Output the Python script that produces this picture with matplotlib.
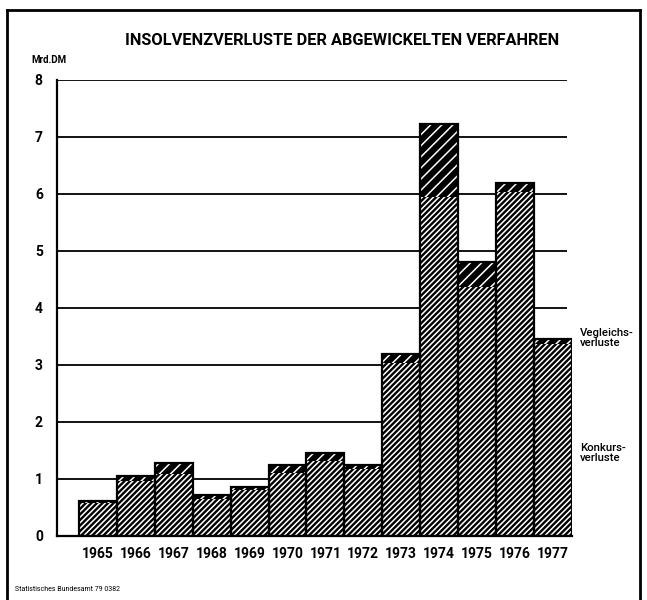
import matplotlib
matplotlib.use("Agg")
import matplotlib.pyplot as plt
import numpy as np
from matplotlib.lines import Line2D

# Insolvenzverluste (Mrd. DM)
YEARS = ["1965", "1966", "1967", "1968", "1969", "1970", "1971",
         "1972", "1973", "1974", "1975", "1976", "1977"]
KONKURS = [0.58, 0.97, 1.09, 0.65, 0.80, 1.10, 1.31, 1.17, 3.03, 5.95, 4.36, 6.04, 3.37]
VERGLEICH = [0.03, 0.08, 0.18, 0.06, 0.06, 0.15, 0.15, 0.08, 0.16, 1.27, 0.45, 0.15, 0.08]
Y_TICKS = [0, 1, 2, 3, 4, 5, 6, 7, 8]

plt.rcParams["font.family"] = ["Roboto", "DejaVu Sans"]

fig = plt.figure(figsize=(6.47, 6.0), dpi=100)
ax = fig.add_axes([0.0876, 0.107, 0.7960, 0.760])

x = np.arange(len(YEARS))
konk = np.array(KONKURS)
verg = np.array(VERGLEICH)

# gridlines behind the bars
ax.hlines(Y_TICKS[1:], -1.09, 12.38, color="black", linewidth=1.3, zorder=1)

# dense dark hatch for Konkurs, black with thin white stripes for Vergleich
plt.rcParams["hatch.linewidth"] = 1.7
ax.bar(x, konk, width=1.0, facecolor="white", edgecolor="black",
       hatch="//////", linewidth=0, zorder=2)
plt.rcParams["hatch.linewidth"] = 1.1
ax.bar(x, verg, width=1.0, bottom=konk, facecolor="black", edgecolor="white",
       hatch="///", linewidth=0, zorder=2)
ax.bar(x, konk + verg, width=1.0, fill=False, edgecolor="black",
       linewidth=1.6, zorder=3)

ax.set_xlim(-1.09, 12.5)
ax.set_ylim(0, 8)
ax.set_yticks(Y_TICKS)
ax.set_yticklabels([str(t) for t in Y_TICKS], fontsize=10, fontweight="bold")
ax.set_xticks(x)
ax.set_xticklabels(YEARS, fontsize=10, fontweight="bold")
ax.tick_params(axis="both", length=0)
ax.tick_params(axis="y", pad=10)
ax.tick_params(axis="x", pad=8)

for side in ["top", "right"]:
    ax.spines[side].set_visible(False)
for side in ["left", "bottom"]:
    ax.spines[side].set_linewidth(1.6)
    ax.spines[side].set_zorder(4)

fig.text(0.529, 0.933, "INSOLVENZVERLUSTE DER ABGEWICKELTEN VERFAHREN",
         ha="center", va="center", fontsize=11.8, fontweight="bold")
fig.text(0.049, 0.900, "Mrd.DM", ha="left", va="center", fontsize=7,
         fontweight="bold")

fig.text(0.896, 0.437, "Vegleichs-\nverluste", ha="left", va="center",
         fontsize=8.2, fontweight="medium", linespacing=1.0)
fig.text(0.896, 0.245, "Konkurs-\nverluste", ha="left", va="center",
         fontsize=8.2, fontweight="medium", linespacing=1.0)

fig.text(0.023, 0.017, "Statistisches Bundesamt 79 0382", ha="left",
         va="center", fontsize=5)

# outer frame of the original sheet
for xs, ys in [([0.011, 0.011], [0.0, 0.983]),
               ([0.011, 0.989], [0.983, 0.983]),
               ([0.989, 0.989], [0.983, 0.0])]:
    fig.add_artist(Line2D(xs, ys, color="black", linewidth=2.0,
                          transform=fig.transFigure))

fig.savefig("out.png", dpi=100)
